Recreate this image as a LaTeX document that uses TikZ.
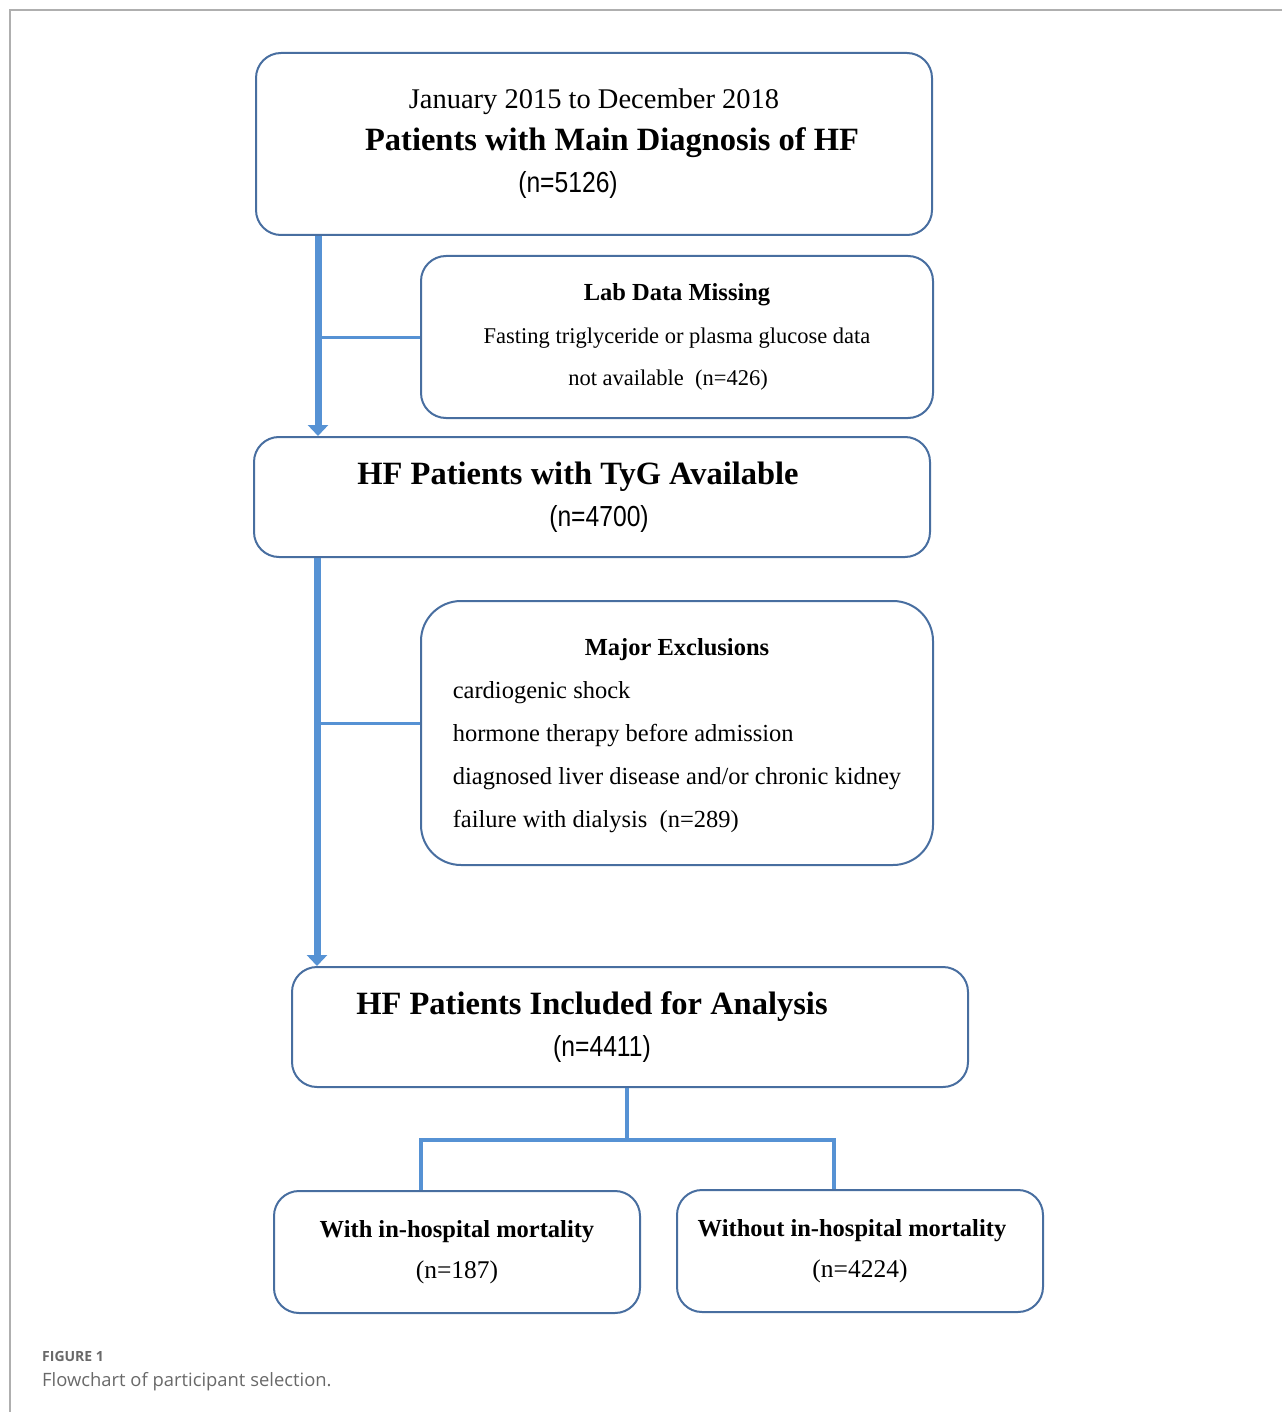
\documentclass[tikz,border=0pt]{standalone}
\usepackage{fontspec}
\setmainfont{Liberation Serif}
\newfontfamily\numfont[FakeStretch=0.85]{Liberation Sans}
\newfontfamily\capfont{Open Sans}
\usetikzlibrary{calc,positioning,arrows.meta}
\definecolor{boxblue}{RGB}{72,110,160}
\definecolor{flowblue}{RGB}{86,146,212}
\definecolor{framegray}{RGB}{175,175,175}
\definecolor{capgray}{RGB}{105,105,105}
\tikzset{
    stage/.style={rectangle, rounded corners=25pt, draw=boxblue, line width=2pt, align=center, inner sep=0pt,
        font=\fontsize{24}{42}\selectfont},
    trunk/.style={draw=flowblue, line width=7pt, -{Triangle[width=20pt,length=11pt]}},
    branch/.style={draw=flowblue, line width=3pt},
    split/.style={draw=flowblue, line width=4pt},
    frame/.style={draw=framegray, line width=1.5pt},
}
\newcommand{\bigtitle}{\fontsize{32.5}{42}\selectfont\bfseries}
\newcommand{\midtitle}{\fontsize{24.5}{43}\selectfont\bfseries}
\newcommand{\bodytext}{\fontsize{24.5}{43}\selectfont}
\newcommand{\ncount}[1]{{\numfont\fontsize{29}{42}\selectfont(n=#1)}}

\begin{document}
\begin{tikzpicture}[x=1pt,y=-1pt]
        \useasboundingbox (0,0) rectangle (1282,1412);

        % Page frame
        \draw[frame] (1282,10) -- (10,10) -- (10,1412);

        % Stages of the selection
        \node[stage, minimum width=676pt, minimum height=182pt] (source) at (594,144)
            {{\fontsize{28.5}{42}\selectfont January 2015 to December 2018}\\
             \hspace*{36pt}\bigtitle Patients with Main Diagnosis of HF\\
             \ncount{5126}\hspace*{52pt}};
        \node[stage, minimum width=676pt, minimum height=120pt] (tyg) at (592,497)
            {\bigtitle HF Patients with TyG Available\hspace*{28pt}\\ \hspace*{14pt}\ncount{4700}};
        \node[stage, minimum width=676pt, minimum height=120pt] (incl) at (630,1027)
            {\bigtitle HF Patients Included for Analysis\hspace*{76pt}\\ \ncount{4411}\hspace*{56pt}};

        % Exclusion boxes
        \node[stage, minimum width=512pt, minimum height=162pt, font=\fontsize{22.5}{42.5}\selectfont] (lab) at (677,337)
            {\midtitle Lab Data Missing\\
             \fontsize{22.5}{42.5}\selectfont Fasting triglyceride or plasma glucose data\\
             \fontsize{22.5}{42.5}\selectfont not available\enspace(n=426)\hspace*{18pt}};
        \node[stage, rounded corners=40pt, minimum width=512pt, minimum height=264pt] (excl) at (677,733)
            {\bodytext\begin{tabular}{@{}l@{}}
             \multicolumn{1}{c}{\bfseries Major Exclusions}\\
             cardiogenic shock\\
             hormone therapy before admission\\
             diagnosed liver disease and/or chronic kidney\\
             failure with dialysis\enspace(n=289)
             \end{tabular}};

        % Outcome boxes
        \node[stage, minimum width=366pt, minimum height=122pt, font=\fontsize{24.5}{41}\selectfont] (with) at (457,1252)
            {\midtitle With in-hospital mortality\\ \fontsize{25.5}{41}\selectfont (n=187)};
        \node[stage, minimum width=366pt, minimum height=122pt, font=\fontsize{24.5}{41}\selectfont] (without) at (860,1251)
            {\midtitle Without in-hospital mortality\hspace*{16pt}\\ \fontsize{25.5}{41}\selectfont (n=4224)};

        % Main flow
        \coordinate (trunkA) at ($(source.south west)+(63,0)$);
        \coordinate (trunkB) at ($(tyg.south west)+(64,0)$);
        \draw[trunk] (trunkA) -- (tyg.north -| trunkA);
        \draw[trunk] (trunkB) -- (incl.north -| trunkB);

        % Side branches to exclusions
        \draw[branch] (lab.west -| trunkA) -- (lab.west);
        \draw[branch] ([yshift=10pt]excl.west -| trunkB) -- ([yshift=10pt]excl.west);

        % Split into outcomes
        \coordinate (fork) at (627,1140);
        \coordinate (forkL) at (421,1140);
        \coordinate (forkR) at (834,1140);
        \draw[split] (incl.south -| fork) -- (fork);
        \draw[split] (with.north -| forkL) |- (forkR) -- (without.north -| forkR);

        % Caption
        \node[anchor=west, inner sep=0pt, text=capgray, font=\capfont\bfseries\fontsize{14}{16}\selectfont] (figtag) at (42,1356) {FIGURE 1};
        \node[anchor=west, inner sep=0pt, text=capgray, font=\capfont\fontsize{18.4}{20}\selectfont] (figcap) at (42,1382) {Flowchart of participant selection.};
    \end{tikzpicture}
\end{document}
